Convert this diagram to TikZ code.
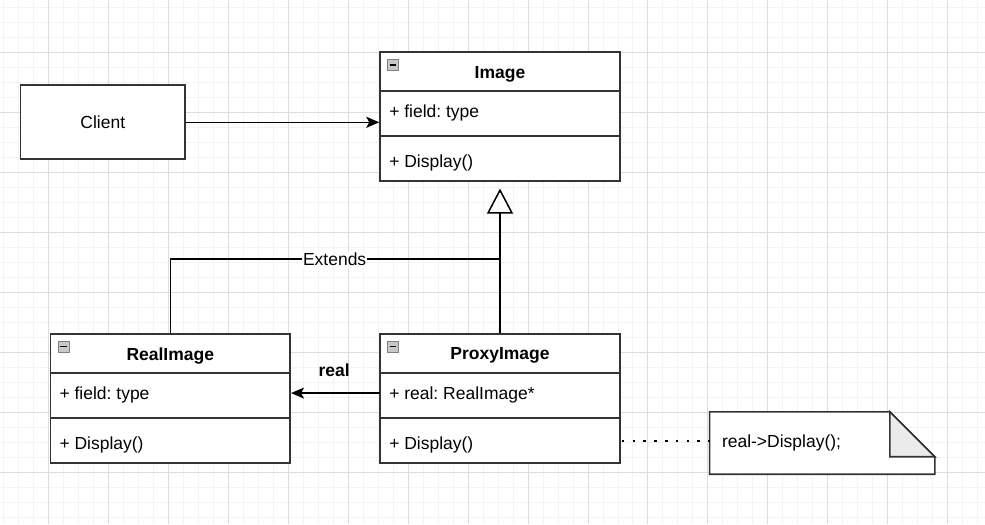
\documentclass[tikz,border=0pt]{standalone}
\usepackage{fontspec}
\setmainfont{Liberation Sans}
\usetikzlibrary{arrows.meta}
\frenchspacing

\definecolor{lineGray}{HTML}{333333}
\definecolor{minorGrid}{HTML}{F3F3F3}
\definecolor{majorGrid}{HTML}{DDDDDD}
\definecolor{foldGray}{HTML}{EBEBEB}
\definecolor{iconGray}{HTML}{C8C8C8}

\begin{document}
\begin{tikzpicture}[x=1pt, y=-1pt,
    boxStyle/.style={draw=lineGray, line width=1.7pt, fill=white, inner sep=0pt},
    classBox/.style={boxStyle, minimum width=240pt, minimum height=129pt},
    sepLine/.style={draw=lineGray, line width=1.7pt},
    titleText/.style={font=\fontsize{17.5}{20}\selectfont\bfseries, inner sep=0pt},
    memberText/.style={font=\fontsize{17.5}{20}\selectfont, inner sep=0pt, anchor=west},
    iconBox/.style={draw=gray, fill=iconGray, line width=0.6pt, minimum size=11pt, inner sep=0pt},
    arrowLine/.style={draw=black, line width=1.5pt, -{Stealth[length=13pt, width=11pt, inset=3pt]}},
    genLine/.style={draw=black, line width=1.5pt},
    dotLine/.style={draw=black, line width=2.6pt, dash pattern=on 2.6pt off 8.2pt}]

    % background grid
    \fill[white] (0,0) rectangle (985,524);
    \foreach \gx in {3,18,...,983} \draw[minorGrid, line width=0.8pt] (\gx,0) -- (\gx,524);
    \foreach \gy in {7,22,...,517} \draw[minorGrid, line width=0.8pt] (0,\gy) -- (985,\gy);
    \foreach \gx in {48,108,...,948} \draw[majorGrid, line width=0.8pt] (\gx,0) -- (\gx,524);
    \foreach \gy in {52,112,...,472} \draw[majorGrid, line width=0.8pt] (0,\gy) -- (985,\gy);

    % client
    \node[boxStyle, minimum width=165pt, minimum height=74pt, font=\fontsize{17.5}{20}\selectfont] (client) at (102.5,122) {Client};

    % Image
    \node[classBox] (image) at (500,116) {};
    \draw[sepLine] (380,91) -- (620,91);
    \draw[sepLine] (380,136) -- (620,136);
    \node[titleText] (imageTitle) at (500,73.5) {Image};
    \node[memberText] (imageField) at (389,112.5) {+ field: type};
    \node[memberText] (imageOp) at (389,162.5) {+ Display()};
    \node[iconBox] (imageIcon) at (393,64.5) {};
    \draw[line width=1.5pt] ([xshift=2.5pt]imageIcon.west) -- ([xshift=-2.5pt]imageIcon.east);

    % RealImage
    \node[classBox] (realImg) at (170,398.5) {};
    \draw[sepLine] (50,373) -- (290,373);
    \draw[sepLine] (50,418) -- (290,418);
    \node[titleText] (realTitle) at (170,355.5) {RealImage};
    \node[memberText] (realField) at (59,394.5) {+ field: type};
    \node[memberText] (realOp) at (59,444.5) {+ Display()};
    \node[iconBox] (realIcon) at (63,346.5) {};
    \draw[line width=1.5pt] ([xshift=2.5pt]realIcon.west) -- ([xshift=-2.5pt]realIcon.east);

    % ProxyImage
    \node[classBox] (proxy) at (500,398.5) {};
    \draw[sepLine] (380,373) -- (620,373);
    \draw[sepLine] (380,418) -- (620,418);
    \node[titleText] (proxyTitle) at (500,355.5) {ProxyImage};
    \node[memberText] (proxyField) at (389,394.5) {+ real: RealImage*};
    \node[memberText] (proxyOp) at (389,444.5) {+ Display()};
    \node[iconBox] (proxyIcon) at (393,346.5) {};
    \draw[line width=1.5pt] ([xshift=2.5pt]proxyIcon.west) -- ([xshift=-2.5pt]proxyIcon.east);

    % note
    \node[minimum width=225pt, minimum height=62pt, inner sep=0pt] (note) at (822.5,443) {};
    \draw[boxStyle] (note.south west) -- (note.north west) -- ([xshift=-45pt]note.north east)
        -- ([yshift=-45pt]note.north east) -- (note.south east) -- cycle;
    \draw[boxStyle, fill=foldGray] ([xshift=-45pt]note.north east) -- ([xshift=-45pt, yshift=-45pt]note.north east)
        -- ([yshift=-45pt]note.north east) -- cycle;
    \node[memberText] (noteText) at (722,442.5) {real->Display();};

    % connectors
    \draw[arrowLine] (client.east) -- (client.east -| image.west);
    \coordinate (join) at (499,259);
    \draw[genLine, -{Triangle[open, length=25pt, width=26pt, line width=1.5pt]}, shorten >=7pt] (proxy.north) -- (image.south);
    \draw[genLine] (realImg.north) |- (join) node[pos=0.75, fill=white, inner sep=1pt, font=\fontsize{17.5}{20}\selectfont] (extendsLabel) {Extends};
    \coordinate (proxyRow) at (380,393);
    \draw[arrowLine] (proxyRow) -- (proxyRow -| realImg.east);
    \node[titleText] (realLabel) at (334,370) {real};
    \coordinate (proxyOpRow) at (622,441);
    \draw[dotLine] (proxyOpRow) -- (proxyOpRow -| note.west);
\end{tikzpicture}
\end{document}
